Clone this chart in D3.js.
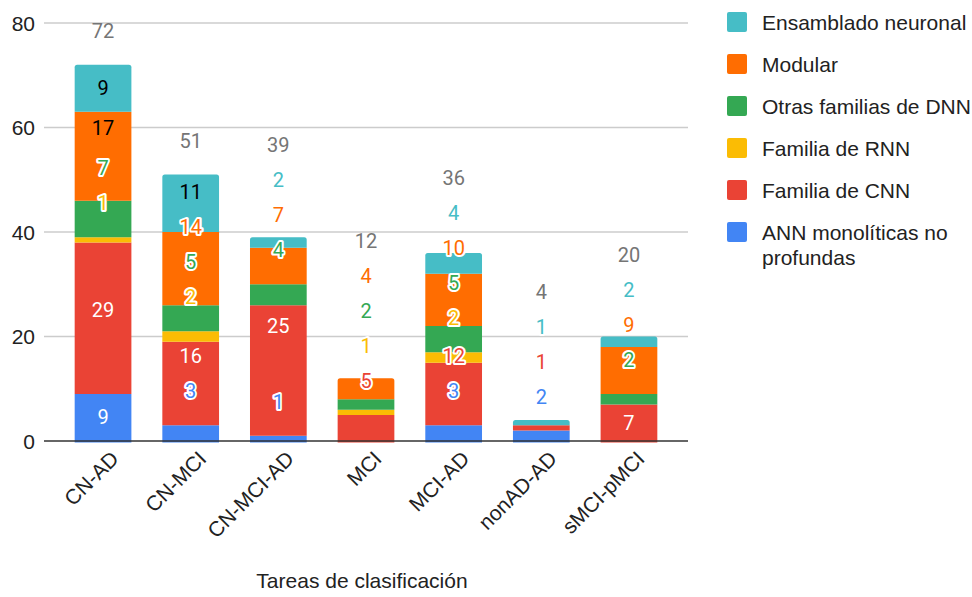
<!DOCTYPE html>
<html>
<head>
<meta charset="utf-8">
<script src="https://cdn.jsdelivr.net/npm/d3@7"></script>
<style>
  html, body { margin: 0; padding: 0; background: #fff; }
  svg { display: block; }
</style>
</head>
<body>
<svg id="chart" width="972" height="597"></svg>
<script>
// ---- data ----
const categories = ["CN-AD", "CN-MCI", "CN-MCI-AD", "MCI", "MCI-AD", "nonAD-AD", "sMCI-pMCI"];
const annMonoliticas = [9, 3, 1, 0, 3, 2, 0];
const familiaCNN     = [29, 16, 25, 5, 12, 1, 7];
const familiaRNN     = [1, 2, 0, 1, 2, 0, 0];
const otrasDNN       = [7, 5, 4, 2, 5, 0, 2];
const modular        = [17, 14, 7, 4, 10, 0, 9];
const ensamblado     = [9, 11, 2, 0, 4, 1, 2];
const seriesNames = ["ANN monolíticas no profundas", "Familia de CNN", "Familia de RNN",
                     "Otras familias de DNN", "Modular", "Ensamblado neuronal"];
const seriesColors = ["#4285F4", "#EA4335", "#FBBC04", "#34A853", "#FF6D01", "#46BDC6"];
const insideTextColors = ["#ffffff", "#ffffff", "#000000", "#ffffff", "#000000", "#000000"];
const yTicks = [0, 20, 40, 60, 80];
const xTitle = "Tareas de clasificación";

const seriesValues = [annMonoliticas, familiaCNN, familiaRNN, otrasDNN, modular, ensamblado];

// ---- build table ----
const keys = seriesNames;
const table = categories.map((c, i) => {
  const row = { cat: c };
  keys.forEach((k, s) => row[k] = seriesValues[s][i]);
  return row;
});
const stacked = d3.stack().keys(keys)(table);

const svg = d3.select("#chart");
const x = d3.scaleBand().domain(categories).range([44, 688]).paddingInner(0.353).paddingOuter(0.35);
const y = d3.scaleLinear().domain([0, 80]).range([441, 23]);
const axisFont = "'Liberation Sans', Arial, sans-serif";

// gridlines
svg.append("g").selectAll("line").data(yTicks.filter(t => t !== 0)).join("line")
  .attr("x1", 44).attr("x2", 688)
  .attr("y1", d => y(d)).attr("y2", d => y(d))
  .attr("stroke", "#cccccc").attr("stroke-width", 1.3);

// y tick labels
svg.append("g").selectAll("text").data(yTicks).join("text")
  .attr("x", 35).attr("y", d => y(d) + 7.5)
  .attr("text-anchor", "end")
  .attr("font-family", axisFont)
  .attr("font-size", 21).attr("fill", "#222")
  .text(d => d);

// bars
const bw = x.bandwidth();
const topIndex = categories.map((c, i) => {
  let t = -1;
  seriesValues.forEach((arr, s) => { if (arr[i] > 0) t = s; });
  return t;
});
stacked.forEach((layer, s) => {
  svg.append("g").selectAll("path").data(layer).join("path")
    .attr("fill", seriesColors[s])
    .attr("d", (d, i) => {
      const v = d[1] - d[0];
      if (v <= 0) return "";
      const x0 = x(d.data.cat), x1 = x0 + bw;
      const yt = y(d[1]), yb = y(d[0]) + (d[0] === 0 ? 1.5 : 0);
      const r = topIndex[i] === s ? 2.5 : 0;
      return `M${x0},${yb}L${x0},${yt + r}Q${x0},${yt} ${x0 + r},${yt}L${x1 - r},${yt}Q${x1},${yt} ${x1},${yt + r}L${x1},${yb}Z`;
    });
});

// baseline
svg.append("line").attr("x1", 44).attr("x2", 688).attr("y1", y(0)).attr("y2", y(0))
  .attr("stroke", "#333").attr("stroke-width", 1.5);

// data labels: bottom-up collision layout, then centre fitting labels between neighbours
const labels = [];
categories.forEach((c, i) => {
  const cx = x(c) + bw / 2;
  const col = [];
  let prev = Infinity;
  stacked.forEach((layer, s) => {
    const d = layer[i];
    const v = d[1] - d[0];
    if (v <= 0) return;
    const yb = y(d[0]), yt = y(d[1]);
    const fits = (yb - yt) >= 30;
    const ideal = fits ? (yb + yt) / 2 : yt - 34;
    const pos = Math.min(ideal, prev - 35);
    prev = pos;
    col.push({ cx, pos, text: v, fits, yt, yb, s });
  });
  const total = seriesValues.reduce((a, arr) => a + arr[i], 0);
  col.push({ cx, pos: Math.min(y(total) - 34, prev - 35), text: total, total: true });
  const orig = col.map(l => l.pos);
  col.forEach((l, k) => {
    if (l.total || !l.fits || k === 0 || col[k + 1].total) return;
    const mid = (orig[k - 1] + orig[k + 1]) / 2;
    if (mid - 12 >= l.yt && mid + 12 <= l.yb) l.pos = mid;
  });
  col.forEach(l => {
    if (!l.total) l.plain = l.fits && l.pos - 10 >= l.yt && l.pos + 10 <= l.yb;
    labels.push(l);
  });
});

const lg = svg.append("g")
  .attr("font-family", "Roboto, 'Noto Sans', sans-serif")
  .attr("font-size", 20).attr("text-anchor", "middle");
lg.selectAll("text").data(labels).join("text")
  .attr("x", d => d.cx).attr("y", d => d.pos + 7)
  .attr("fill", d => d.total ? "#757575" : (d.plain ? insideTextColors[d.s] : seriesColors[d.s]))
  .attr("stroke", d => (d.total || d.plain) ? "none" : "#ffffff")
  .attr("stroke-width", 4).attr("stroke-linejoin", "round")
  .attr("paint-order", "stroke")
  .text(d => d.text);

// x labels rotated
svg.append("g").selectAll("text").data(categories).join("text")
  .attr("transform", d => `translate(${x(d) + bw / 2 + 17},${460}) rotate(-45)`)
  .attr("text-anchor", "end")
  .attr("font-family", axisFont)
  .attr("font-size", 21).attr("fill", "#222")
  .text(d => d);

// x title
svg.append("text").attr("x", 362).attr("y", 588).attr("text-anchor", "middle")
  .attr("font-family", axisFont)
  .attr("font-size", 21).attr("fill", "#222")
  .text(xTitle);

// legend (top series first)
const legendOrder = d3.range(seriesNames.length).reverse();
const leg = svg.append("g");
legendOrder.forEach((s, j) => {
  const cy = 22 + j * 42;
  leg.append("rect").attr("x", 727).attr("y", cy - 10).attr("width", 20).attr("height", 20)
    .attr("rx", 2).attr("fill", seriesColors[s]);
  const t = leg.append("text").attr("x", 762).attr("y", cy + 7.5)
    .attr("font-family", axisFont)
    .attr("font-size", 21).attr("fill", "#222");
  const name = seriesNames[s];
  if (name === "ANN monolíticas no profundas") {
    t.append("tspan").attr("x", 762).text("ANN monolíticas no");
    t.append("tspan").attr("x", 762).attr("dy", 25).text("profundas");
  } else {
    t.text(name);
  }
});
</script>
</body>
</html>
